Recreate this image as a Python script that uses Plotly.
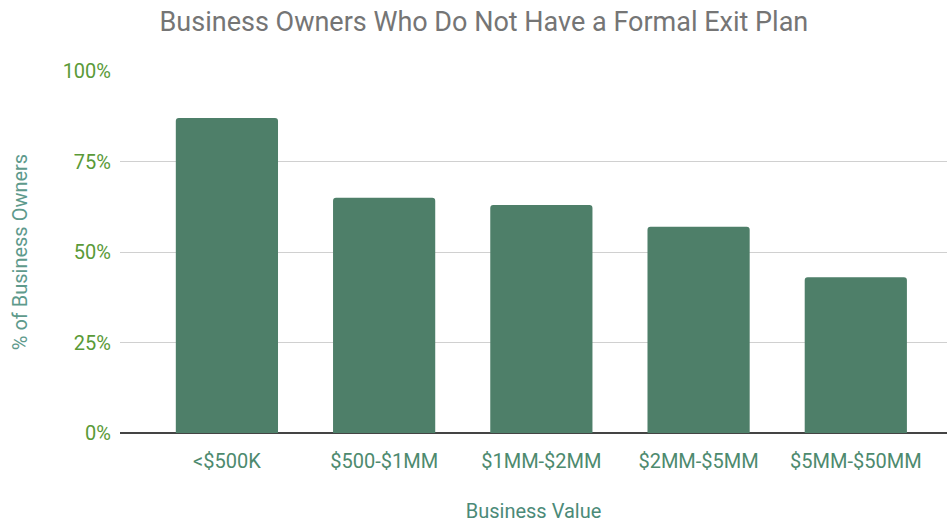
import plotly.graph_objects as go

categories = ["<$500K", "$500-$1MM", "$1MM-$2MM", "$2MM-$5MM", "$5MM-$50MM"]
values = [87, 65, 63, 57, 43]
y_ticks = [0, 25, 50, 75, 100]
y_tick_labels = ["0%", "25%", "50%", "75%", "100%"]

fig = go.Figure(go.Bar(
    x=categories, y=values,
    marker=dict(color="#4e7f69", cornerradius=3, line=dict(width=0)),
    hoverinfo="x+y",
))

fig.update_layout(
    width=947, height=523,
    margin=dict(l=120, r=0, t=71, b=90),
    paper_bgcolor="white", plot_bgcolor="white",
    bargap=0.35,
    font=dict(family="Roboto", size=20),
    title=dict(text="Business Owners Who Do Not Have a Formal Exit Plan",
               x=0.511, xanchor="center", xref="container", y=0.958, yanchor="middle",
               font=dict(family="Roboto", size=27, color="#757575")),
    showlegend=False,
)
fig.update_xaxes(
    type="category", range=[-0.68, 4.58],
    showgrid=False, showline=False, zeroline=False,
    ticks="", ticklabelstandoff=14, tickfont=dict(color="#4d8a6e", size=20),
    title=dict(text="Business Value", font=dict(color="#4b8a78", size=20), standoff=32),
)
fig.update_yaxes(
    range=[0, 100], tickvals=y_ticks, ticktext=y_tick_labels,
    showgrid=True, gridcolor="#d0d0d0", gridwidth=1,
    zeroline=True, zerolinecolor="#444444", zerolinewidth=2,
    showline=False, ticks="", ticklabelstandoff=8,
    tickfont=dict(color="#5a9a38", size=20),
    title=dict(text="% of Business Owners", font=dict(color="#5e9a8c", size=20), standoff=29),
)

fig.write_html("out.html")
